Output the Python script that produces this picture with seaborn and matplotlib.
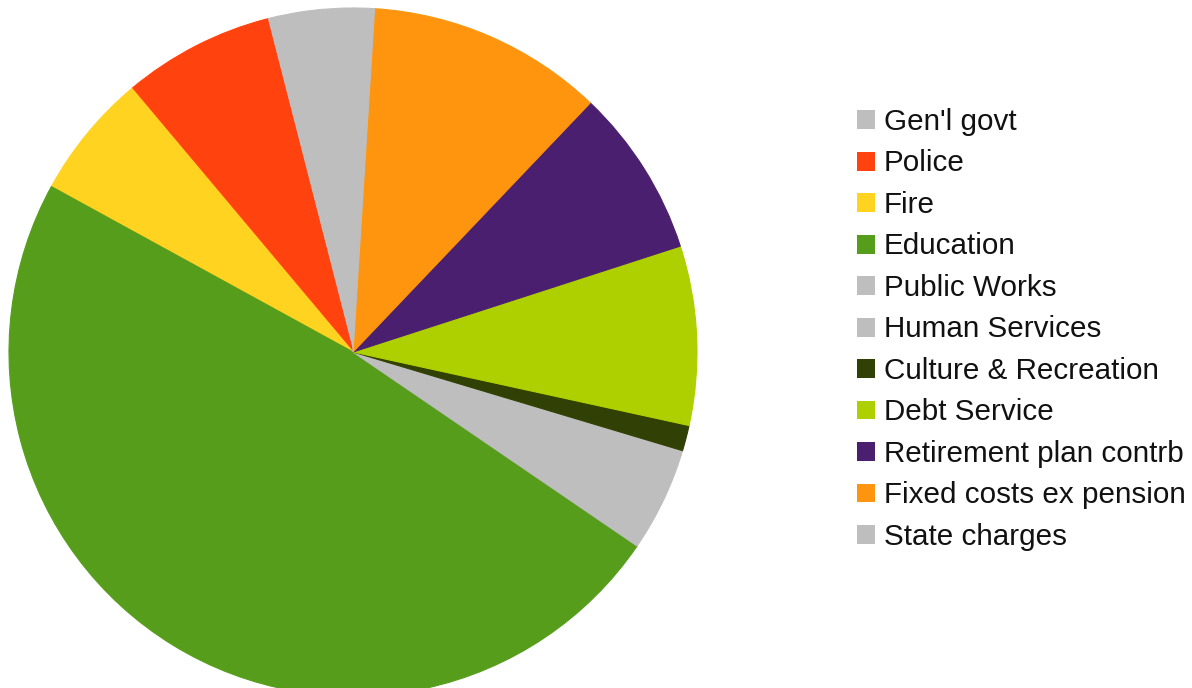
import matplotlib
matplotlib.use("Agg")
import matplotlib.pyplot as plt
import matplotlib.patches as mpatches
import seaborn as sns

# Budget shares (percent), in legend order
categories = ["Gen'l govt", "Police", "Fire", "Education", "Public Works",
              "Human Services", "Culture & Recreation", "Debt Service",
              "Retirement plan contrb", "Fixed costs ex pension", "State charges"]
shares = [4.0, 7.1, 5.9, 48.4, 2.6, 2.3, 1.2, 8.4, 7.9, 11.1, 1.0]
colors = ["#bebebe", "#ff420e", "#ffd320", "#579d1c", "#bebebe", "#bebebe",
          "#314004", "#aecf00", "#4b1f6f", "#ff950e", "#bebebe"]

sns.set_style("white")
plt.rcParams['font.family'] = ['Liberation Sans', 'DejaVu Sans']

fig = plt.figure(figsize=(11.92, 6.88), dpi=100)
# square axes holding the pie (center ~ (353, 352) px, radius ~344 px)
ax = fig.add_axes([9 / 1192, -8 / 688, 688 / 1192, 1.0])
wedges, _ = ax.pie(shares, colors=colors, startangle=90, counterclock=True, radius=1,
                   wedgeprops=dict(linewidth=0.8))
# hide seams between same-coloured wedges
for w, c in zip(wedges, colors):
    w.set_edgecolor(c)
ax.set_xlim(-1, 1)
ax.set_ylim(-1, 1)
ax.set_aspect('equal')
ax.axis('off')

handles = [mpatches.Patch(facecolor=c, edgecolor='none', label=l)
           for c, l in zip(colors, categories)]
fig.legend(handles=handles, loc='upper left', bbox_to_anchor=(857 / 1192, 1 - 108 / 688),
           frameon=False, fontsize=21.3, handlelength=0.61, handleheight=0.61,
           handletextpad=0.3, labelspacing=0.456, borderaxespad=0, borderpad=0,
           labelcolor='#111111')

fig.savefig("out.png", dpi=100)
